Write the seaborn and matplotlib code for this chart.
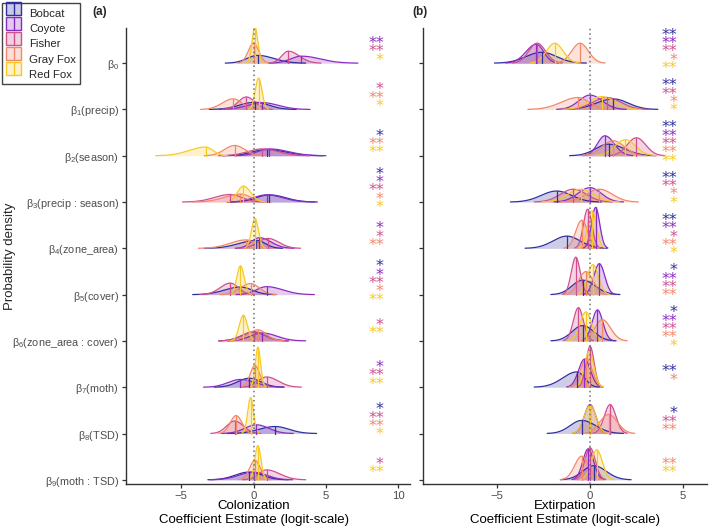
import numpy as np
import pandas as pd
import matplotlib
matplotlib.use("Agg")
import matplotlib.pyplot as plt
import seaborn as sns
from matplotlib.legend_handler import HandlerBase
from matplotlib.patches import Rectangle, Patch
from matplotlib.lines import Line2D

species = ["Bobcat", "Coyote", "Fisher", "Gray Fox", "Red Fox"]
colors = {"Bobcat": "#2f2f9f", "Coyote": "#8a2bc2", "Fisher": "#cf4f8f",
          "Gray Fox": "#f2876a", "Red Fox": "#f8c925"}
params = ["β$_0$", "β$_1$(precip)", "β$_2$(season)", "β$_3$(precip : season)",
          "β$_4$(zone_area)", "β$_5$(cover)", "β$_6$(zone_area : cover)",
          "β$_7$(moth)", "β$_8$(TSD)", "β$_9$(moth : TSD)"]

# colonization: posterior mode, left / right spread, rows beta0..beta9
col_mode = {
    "Bobcat":   [0.3, 0.1, 0.9, 1.1, 0.2, -0.9, 0.0, -0.3, 1.5, -0.3],
    "Coyote":   [3.3, 0.6, 1.1, 0.9, 0.4, 0.9, 0.6, -0.9, 0.2, 0.0],
    "Fisher":   [2.4, -0.5, 0.6, -1.6, 1.0, -1.6, 0.0, 0.9, -1.3, 0.9],
    "Gray Fox": [0.0, -1.4, -1.3, -0.9, -0.5, -0.2, 0.3, 0.1, -1.2, 0.1],
    "Red Fox":  [0.1, 0.35, -3.3, -0.7, 0.1, -0.9, -0.7, 0.3, -0.2, 0.3],
}
col_sdl = {
    "Bobcat":   [0.75, 1.05, 1.0, 0.9, 1.2, 1.1, 0.8, 0.8, 1.1, 0.95],
    "Coyote":   [0.75, 1.0, 0.8, 0.9, 0.55, 0.7, 0.8, 0.85, 0.8, 1.0],
    "Fisher":   [0.45, 0.55, 1.0, 1.1, 0.7, 0.7, 0.8, 0.6, 0.55, 0.55],
    "Gray Fox": [0.36, 0.75, 0.7, 1.1, 1.1, 0.7, 0.7, 0.33, 0.4, 0.37],
    "Red Fox":  [0.2, 0.23, 1.15, 0.4, 0.24, 0.25, 0.28, 0.18, 0.2, 0.21],
}
col_sdr = {
    "Bobcat":   [1.1, 0.95, 1.3, 1.1, 0.6, 0.8, 0.8, 0.8, 0.95, 0.9],
    "Coyote":   [1.3, 1.1, 1.3, 1.1, 0.8, 1.1, 1.0, 1.0, 0.85, 0.9],
    "Fisher":   [0.75, 0.6, 1.1, 0.8, 0.75, 0.55, 0.8, 0.8, 0.6, 0.9],
    "Gray Fox": [0.36, 0.6, 0.7, 0.7, 0.6, 0.6, 0.6, 0.33, 0.4, 0.37],
    "Red Fox":  [0.2, 0.23, 0.5, 0.5, 0.24, 0.25, 0.28, 0.18, 0.2, 0.21],
}
col_stars = {
    "Bobcat":   ["", "", "*", "*", "", "*", "", "", "*", ""],
    "Coyote":   ["**", "", "", "*", "*", "*", "", "*", "", ""],
    "Fisher":   ["**", "*", "", "**", "*", "**", "*", "**", "**", "*"],
    "Gray Fox": ["", "**", "**", "*", "**", "*", "", "", "**", ""],
    "Red Fox":  ["*", "*", "**", "*", "", "**", "**", "**", "*", "**"],
}

# extirpation
ext_mode = {
    "Bobcat":   [-2.6, 1.25, 1.0, -1.8, -1.25, -0.4, -0.4, -0.7, -0.45, 0.2],
    "Coyote":   [-2.9, 0.0, 0.8, 0.0, 0.3, 0.5, 0.4, -0.3, 0.0, -0.1],
    "Fisher":   [-2.85, 0.9, 2.5, -0.9, -0.13, -0.77, -0.63, 0.0, 1.08, 0.0],
    "Gray Fox": [-0.54, -0.65, 1.25, 0.5, -0.45, -0.23, 0.65, -0.2, 1.0, -0.45],
    "Red Fox":  [-1.9, 0.63, 1.9, -0.5, 0.1, 0.15, -0.23, -0.05, 0.0, 0.36],
}
ext_sdl = {
    "Bobcat":   [0.85, 0.9, 0.7, 0.83, 0.75, 0.57, 0.57, 0.77, 0.62, 0.6],
    "Coyote":   [0.55, 0.6, 0.4, 0.65, 0.22, 0.29, 0.29, 0.32, 0.31, 0.29],
    "Fisher":   [0.45, 0.75, 0.5, 0.7, 0.23, 0.24, 0.27, 0.22, 0.31, 0.28],
    "Gray Fox": [0.45, 0.9, 0.6, 0.7, 0.32, 0.39, 0.39, 0.31, 0.47, 0.38],
    "Red Fox":  [0.45, 0.7, 0.56, 0.7, 0.24, 0.3, 0.31, 0.25, 0.32, 0.3],
}
ext_sdr = {
    "Bobcat":   [0.8, 0.8, 0.85, 0.8, 0.72, 0.67, 0.6, 0.4, 0.75, 0.67],
    "Coyote":   [0.4, 0.65, 0.5, 0.6, 0.22, 0.29, 0.29, 0.32, 0.31, 0.29],
    "Fisher":   [0.45, 0.75, 0.5, 0.7, 0.23, 0.24, 0.27, 0.22, 0.31, 0.28],
    "Gray Fox": [0.45, 0.6, 0.6, 0.7, 0.32, 0.39, 0.45, 0.31, 0.47, 0.38],
    "Red Fox":  [0.45, 0.7, 0.56, 0.7, 0.24, 0.3, 0.31, 0.25, 0.32, 0.3],
}
ext_stars = {
    "Bobcat":   ["**", "**", "**", "**", "**", "*", "*", "**", "*", ""],
    "Coyote":   ["**", "", "**", "", "**", "**", "**", "", "", ""],
    "Fisher":   ["**", "**", "**", "**", "*", "**", "**", "", "**", ""],
    "Gray Fox": ["*", "*", "**", "*", "**", "**", "**", "*", "**", "**"],
    "Red Fox":  ["**", "*", "**", "*", "*", "", "*", "", "", "**"],
}

sns.set_style("ticks")
plt.rcParams["font.family"] = ["Liberation Sans", "DejaVu Sans"]
plt.rcParams["mathtext.fontset"] = "custom"
plt.rcParams["mathtext.rm"] = "Liberation Sans"
plt.rcParams["mathtext.it"] = "Liberation Sans:italic"
plt.rcParams["mathtext.default"] = "rm"


def ridge_panel(ax, mode, sdl, sdr, stars, k, xlim, xticks, star_x):
    recs = []
    peaks = []
    for sp in species:
        for r in range(10):
            m, a, b = mode[sp][r], sdl[sp][r], sdr[sp][r]
            base = 9 - r
            xs = np.linspace(m - 3 * a, m + 3 * b, 200)
            s = np.where(xs < m, a, b)
            dens = 2 / (np.sqrt(2 * np.pi) * (a + b)) * np.exp(-(xs - m) ** 2 / (2 * s ** 2))
            ys = base + k * dens
            for x, y in zip(xs, ys):
                recs.append((sp, r, x, y))
            peaks.append((sp, m, base, ys.max()))
    df = pd.DataFrame(recs, columns=["species", "row", "x", "y"])
    for (sp, r), g in df.groupby(["species", "row"], sort=False):
        ax.fill_between(g["x"], 9 - r, g["y"], color=colors[sp], alpha=0.24, lw=0)
    sns.lineplot(data=df, x="x", y="y", hue="species", units="row", estimator=None,
                 sort=False, palette=colors, legend=False, ax=ax, lw=0.9)
    for sp, m, base, top in peaks:
        ax.plot([m, m], [base, top], color=colors[sp], lw=0.9)
    ax.axvline(0, color="#707070", ls=(0, (1, 2)), lw=1.1, zorder=5)

    for r in range(10):
        lines = [(sp, stars[sp][r]) for sp in species if stars[sp][r]]
        n = len(lines)
        for j, (sp, st) in enumerate(lines):
            yc = 9 - r + 0.345 + ((n - 1) / 2 - j) * 0.18
            ax.annotate(st, (star_x, yc), xytext=(0, -6.6), textcoords="offset points",
                        ha="right", va="baseline", color=colors[sp], fontsize=11.5,
                        family="DejaVu Sans", annotation_clip=False)

    ax.set_xticks(xticks)
    ax.set_xlim(*xlim)
    ax.set_ylim(-0.09, 9.76)
    ax.set_yticks(range(10))
    sns.despine(ax=ax)
    for sp_name in ["left", "bottom"]:
        ax.spines[sp_name].set_color("#333333")
        ax.spines[sp_name].set_linewidth(1.0)
    ax.tick_params(axis="both", length=3, width=0.9, color="#333333",
                   labelcolor="#4d4d4d", pad=2)
    ax.tick_params(axis="x", labelsize=8.2)
    ax.tick_params(axis="y", labelsize=7.8)


class RidgeKey(HandlerBase):
    def create_artists(self, legend, orig, xd, yd, w, h, fontsize, trans):
        c = orig.get_edgecolor()
        rect = Rectangle((xd, yd), w, h, facecolor=orig.get_facecolor(),
                         edgecolor=c, lw=1.0, transform=trans)
        ln = Line2D([xd + w / 2, xd + w / 2], [yd, yd + h], color=c, lw=1.0, transform=trans)
        return [rect, ln]


fig = plt.figure(figsize=(7.09, 5.29), dpi=100)
axl = fig.add_axes([126 / 709, 45 / 529, 284 / 709, 456 / 529])
axr = fig.add_axes([423 / 709, 45 / 529, 284 / 709, 456 / 529])

ridge_panel(axl, col_mode, col_sdl, col_sdr, col_stars, 0.39, (-8.8, 10.8), [-5, 0, 5, 10], 9.0)
ridge_panel(axr, ext_mode, ext_sdl, ext_sdr, ext_stars, 0.487, (-9.0, 6.3), [-5, 0, 5], 4.7)

axl.set_yticklabels([params[9 - i] for i in range(10)])
axr.set_yticklabels([])
axl.set_xlabel("Colonization\nCoefficient Estimate (logit-scale)", fontsize=9.5, color="black")
axr.set_xlabel("Extirpation\nCoefficient Estimate (logit-scale)", fontsize=9.5, color="black")
axl.xaxis.set_label_coords(0.45, -0.035)
axr.xaxis.set_label_coords(0.5, -0.035)
axl.xaxis.label.set_va("top")
axr.xaxis.label.set_va("top")
axl.set_ylabel("")
axr.set_ylabel("")

fig.text(10 / 709, 1 - 256 / 529, "Probability density", rotation=90,
         ha="center", va="center", fontsize=9.5)
fig.text(100 / 709, 1 - 12 / 529, "(a)", fontweight="bold", ha="center", va="center", fontsize=8.5)
fig.text(420 / 709, 1 - 12 / 529, "(b)", fontweight="bold", ha="center", va="center", fontsize=8.5)

handles = [Patch(facecolor=matplotlib.colors.to_rgba(colors[sp], 0.25), edgecolor=colors[sp])
           for sp in species]
leg = fig.legend(handles, species, loc="upper left", bbox_to_anchor=(0.003, 0.994),
                 handler_map={Patch: RidgeKey()}, fontsize=8.2, frameon=True,
                 fancybox=False, edgecolor="#444444", framealpha=1,
                 handlelength=1.35, handleheight=1.35, labelspacing=0.2,
                 handletextpad=0.7, borderpad=0.35, borderaxespad=0)
leg.get_frame().set_linewidth(1.0)

fig.savefig("out.png", dpi=100)
